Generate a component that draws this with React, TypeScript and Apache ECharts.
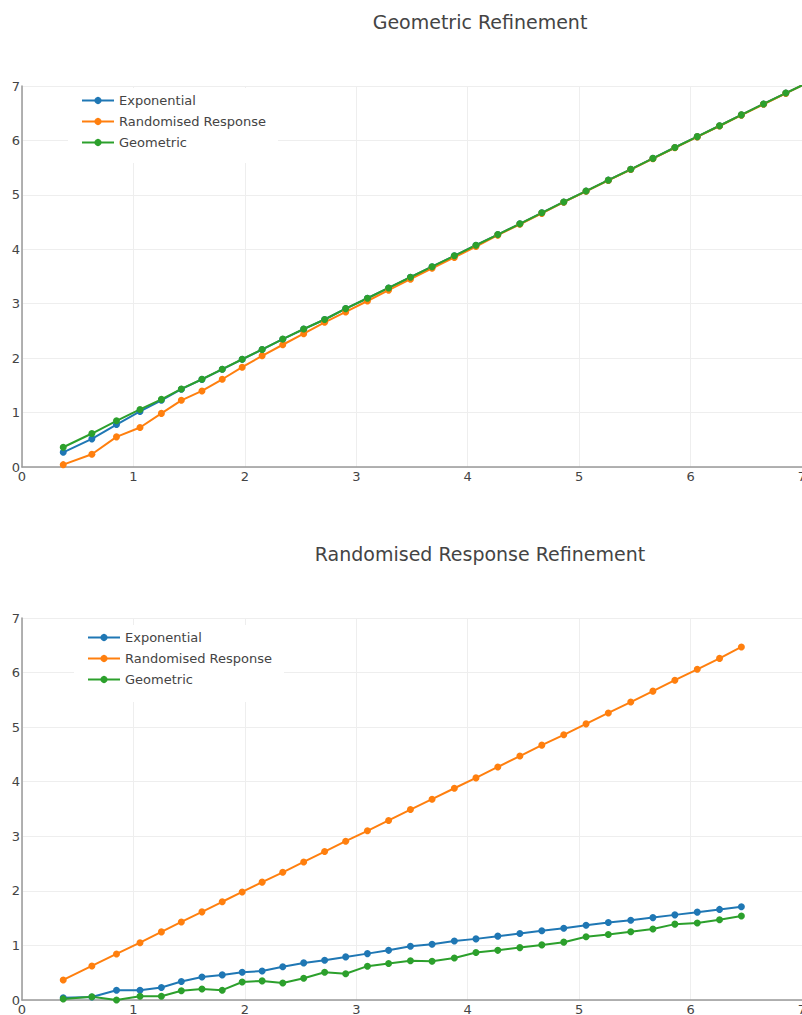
import React, { useEffect, useRef } from "react";
import * as echarts from "echarts";

// shared x values (epsilon)
const xValues = [
  0.37, 0.627, 0.848, 1.059, 1.251, 1.43, 1.615, 1.797, 1.976, 2.155, 2.34, 2.528,
  2.716, 2.905, 3.1, 3.29, 3.486, 3.68, 3.88, 4.074, 4.27, 4.468, 4.665, 4.862,
  5.062, 5.262, 5.463, 5.662, 5.859, 6.06, 6.26, 6.456, 6.655, 6.855, 7.05,
];

const seriesNames = ["Exponential", "Randomised Response", "Geometric"];
const seriesColors = ["#1f77b4", "#ff7f0e", "#2ca02c"];
const axisTicks = [0, 1, 2, 3, 4, 5, 6, 7];

// Geometric Refinement (top)
const geoExponential = [
  0.27, 0.517, 0.78, 1.02, 1.225, 1.43, 1.61, 1.795, 1.978, 2.158, 2.348, 2.533,
  2.71, 2.91, 3.1, 3.29, 3.486, 3.68, 3.88, 4.074, 4.27, 4.468, 4.67, 4.87,
  5.07, 5.27, 5.47, 5.67, 5.87, 6.07, 6.27, 6.47, 6.67, 6.87, 7.06,
];
const geoRandomised = [
  0.043, 0.234, 0.554, 0.726, 0.985, 1.225, 1.397, 1.612, 1.834, 2.043, 2.246, 2.449,
  2.658, 2.85, 3.05, 3.25, 3.45, 3.65, 3.85, 4.05, 4.26, 4.46, 4.66, 4.865,
  5.065, 5.265, 5.465, 5.665, 5.865, 6.065, 6.265, 6.465, 6.665, 6.865, 7.06,
];
const geoGeometric = [
  0.363, 0.615, 0.849, 1.058, 1.243, 1.434, 1.612, 1.797, 1.98, 2.16, 2.35, 2.535,
  2.71, 2.91, 3.1, 3.29, 3.486, 3.68, 3.88, 4.074, 4.27, 4.468, 4.67, 4.87,
  5.07, 5.27, 5.47, 5.67, 5.87, 6.07, 6.27, 6.47, 6.67, 6.87, 7.06,
];

// Randomised Response Refinement (bottom)
const rrExponential = [
  0.04, 0.055, 0.18, 0.18, 0.23, 0.34, 0.42, 0.46, 0.51, 0.53, 0.61, 0.68,
  0.73, 0.79, 0.85, 0.91, 0.985, 1.02, 1.08, 1.12, 1.17, 1.22, 1.27, 1.315,
  1.37, 1.42, 1.46, 1.51, 1.56, 1.61, 1.66, 1.71,
];
const rrRandomised = [
  0.367, 0.624, 0.844, 1.05, 1.248, 1.43, 1.615, 1.8, 1.98, 2.16, 2.34, 2.53,
  2.72, 2.91, 3.1, 3.29, 3.49, 3.68, 3.88, 4.07, 4.27, 4.47, 4.67, 4.86,
  5.06, 5.26, 5.46, 5.66, 5.86, 6.06, 6.26, 6.47,
];
const rrGeometric = [
  0.02, 0.06, 0.0, 0.07, 0.07, 0.17, 0.2, 0.18, 0.33, 0.35, 0.31, 0.4,
  0.51, 0.48, 0.62, 0.67, 0.72, 0.71, 0.77, 0.87, 0.91, 0.96, 1.01, 1.06,
  1.16, 1.2, 1.25, 1.3, 1.39, 1.41, 1.47, 1.54,
];

const titles = ["Geometric Refinement", "Randomised Response Refinement"];

const FONT = "'DejaVu Sans', Verdana, sans-serif";

function pairs(values: number[]) {
  return values.map((v, i) => [xValues[i], v]);
}

export default function App() {
  const ref = useRef<HTMLDivElement>(null);

  useEffect(() => {
    if (!ref.current) return;
    const chart = echarts.init(ref.current, null, { renderer: "svg" });

    const axisCommon = {
      type: "value" as const,
      min: axisTicks[0],
      max: axisTicks[axisTicks.length - 1],
      interval: 1,
      axisLine: { show: true, lineStyle: { color: "#999", width: 1.5 } },
      axisTick: { show: false },
      splitLine: { show: true, lineStyle: { color: "#eee", width: 1 } },
    };
    const xAxisCfg = (gi: number) => ({
      ...axisCommon,
      gridIndex: gi,
      axisLabel: { color: "#444", fontSize: 13, fontFamily: FONT, margin: 3 },
    });
    const yAxisCfg = (gi: number) => ({
      ...axisCommon,
      gridIndex: gi,
      axisLabel: { color: "#444", fontSize: 13, fontFamily: FONT, margin: 2 },
    });

    const groups = [
      [geoExponential, geoRandomised, geoGeometric],
      [rrExponential, rrRandomised, rrGeometric],
    ];

    const series: any[] = [];
    groups.forEach((grp, gi) => {
      grp.forEach((vals, si) => {
        series.push({
          type: "line",
          name: seriesNames[si],
          xAxisIndex: gi,
          yAxisIndex: gi,
          data: pairs(vals),
          symbol: "circle",
          symbolSize: 7,
          showSymbol: true,
          clip: true,
          lineStyle: { color: seriesColors[si], width: 2 },
          itemStyle: { color: seriesColors[si] },
          emphasis: { disabled: true },
        });
      });
    });

    const legendCommon = {
      orient: "vertical" as const,
      data: seriesNames,
      backgroundColor: "#fff",
      itemWidth: 32,
      itemHeight: 9,
      itemGap: 8,
      textStyle: { color: "#444", fontSize: 13, fontFamily: FONT },
      selectedMode: false,
    };

    chart.setOption({
      animation: false,
      title: [
        {
          text: titles[0],
          left: 480,
          top: 12,
          textAlign: "center",
          padding: 0,
          textStyle: { color: "#444", fontSize: 19, fontWeight: "normal", fontFamily: FONT },
        },
        {
          text: titles[1],
          left: 480,
          top: 544,
          textAlign: "center",
          padding: 0,
          textStyle: { color: "#444", fontSize: 19, fontWeight: "normal", fontFamily: FONT },
        },
      ],
      grid: [
        { left: 22, right: 0, top: 86, height: 381, containLabel: false, outerBoundsMode: "none" },
        { left: 22, right: 0, top: 618, height: 382, containLabel: false, outerBoundsMode: "none" },
      ],
      xAxis: [xAxisCfg(0), xAxisCfg(1)],
      yAxis: [yAxisCfg(0), yAxisCfg(1)],
      legend: [
        { ...legendCommon, left: 68, top: 88, padding: [6, 12, 14, 13] },
        { ...legendCommon, left: 74, top: 625, padding: [6, 12, 16, 13] },
      ],
      series,
    });

    return () => chart.dispose();
  }, []);

  return (
    <div
      ref={ref}
      style={{ position: "fixed", left: 0, top: 0, width: 802, height: 1015, background: "#fff" }}
    />
  );
}
